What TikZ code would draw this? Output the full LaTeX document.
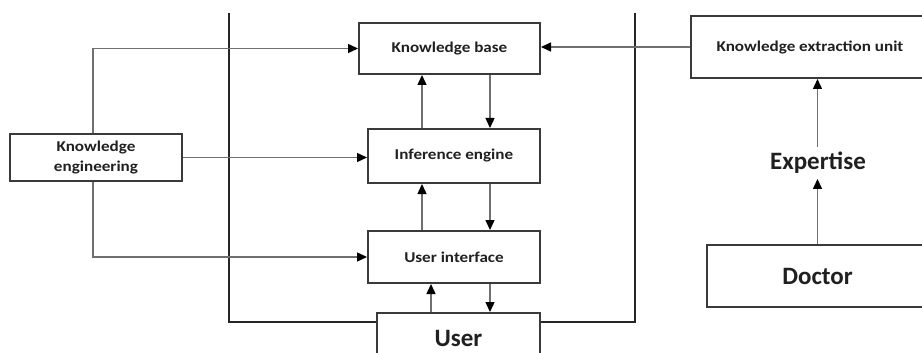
\documentclass[tikz,border=0pt]{standalone}
\usepackage{fontspec}
\setmainfont{Carlito}
\newfontfamily\widefont[FakeStretch=1.14]{Carlito}
\usetikzlibrary{arrows.meta}
\definecolor{boxline}{HTML}{3A3A3A}
\definecolor{wire}{HTML}{707070}
\definecolor{ink}{HTML}{202020}
\tikzset{
  unitbox/.style={draw=boxline, line width=2pt, fill=white, text=ink,
    inner sep=0pt, font=\widefont\bfseries\fontsize{15}{20}\selectfont, align=center},
  bigbox/.style={draw=boxline, line width=2pt, fill=white, text=ink,
    inner sep=0pt, font=\bfseries\fontsize{25}{28}\selectfont},
  wirearrow/.style={draw=wire, line width=1.4pt,
    -{Triangle[length=10pt,width=9pt,fill=black,color=black]}},
  frameline/.style={draw=black!85, line width=2.4pt}
}
\begin{document}
\begin{tikzpicture}[x=1pt,y=-1pt]
\useasboundingbox (0,0) rectangle (922,353);
\clip (0,0) rectangle (922,353);

% inner system boxes
\node[unitbox, minimum width=181pt, minimum height=51pt] (kb) at (449.5,48.5) {Knowledge base};
\node[unitbox, minimum width=172pt, minimum height=54pt] (ie) at (454,156) {Inference engine};
\node[unitbox, minimum width=172pt, minimum height=52pt] (ui) at (454,257) {User interface};
\node[bigbox, minimum width=163pt, minimum height=58pt, anchor=north] (user) at (458.5,312) {};
\node[font=\bfseries\fontsize{25}{28}\selectfont, text=ink] (usertext) at (458.5,338) {User};

% outside boxes
\node[unitbox, minimum width=172pt, minimum height=47pt] (ke) at (96,157.5) {Knowledge\\engineering};
\node[unitbox, minimum width=238pt, minimum height=62pt] (keu) at (810,47) {Knowledge extraction unit};
\node[font=\bfseries\fontsize{25}{28}\selectfont, text=ink, inner sep=0pt] (exp) at (818,163) {Expertise};
\node[bigbox, minimum width=221pt, minimum height=62pt] (doc) at (817.5,276) {Doctor};

% system boundary
\coordinate (ftl) at (229,13);
\coordinate (ftr) at (635,13);
\draw[frameline] (ftl) -- (ftl |- 0,322) -- (user.west |- 0,322);
\draw[frameline] (user.east |- 0,322) -- (ftr |- 0,322) -- (ftr);

% knowledge engineering feeds
\draw[wirearrow] ([xshift=-3pt]ke.north) |- (kb.west);
\draw[wirearrow] (ke.east) -- (ke.east -| ie.west);
\draw[wirearrow] ([xshift=-3pt]ke.south) |- (ui.west);

% extraction unit into knowledge base
\draw[wirearrow] (keu.west) -- (keu.west -| kb.east);

% vertical flows inside the system
\draw[wirearrow] (ie.north -| 422,0) -- (kb.south -| 422,0);
\draw[wirearrow] (kb.south -| 490,0) -- (ie.north -| 490,0);
\draw[wirearrow] (ui.north -| 422,0) -- (ie.south -| 422,0);
\draw[wirearrow] (ie.south -| 490,0) -- (ui.north -| 490,0);
\draw[wirearrow] (user.north -| 431,0) -- (ui.south -| 431,0);
\draw[wirearrow] (ui.south -| 490,0) -- (user.north -| 490,0);

% expertise chain
\draw[wirearrow] (doc.north) -- ([yshift=-5pt]exp.south -| doc.north);
\draw[wirearrow] ([yshift=5pt]exp.north -| doc.north) -- (keu.south -| doc.north);
\end{tikzpicture}
\end{document}
